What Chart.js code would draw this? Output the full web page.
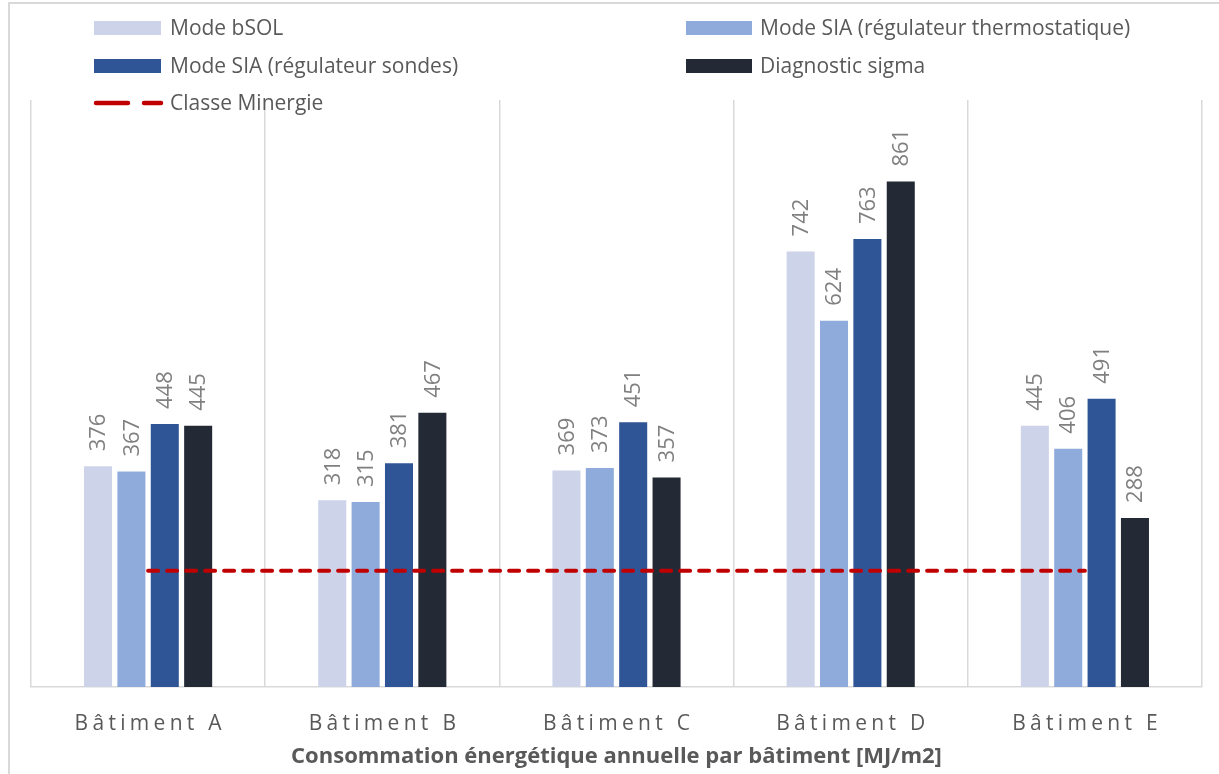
<!DOCTYPE html>
<html>
<head>
<meta charset="utf-8">
<script src="https://cdn.jsdelivr.net/npm/chart.js@4.4.1/dist/chart.umd.min.js"></script>
<style>
  html, body { margin: 0; padding: 0; background: #ffffff; }
  #wrap { position: relative; width: 1219px; height: 774px; }
</style>
</head>
<body>
<div id="wrap"><canvas id="c" width="1219" height="774"></canvas></div>
<script>
// Annual energy consumption per building [MJ/m2]
const categories = ['Bâtiment A', 'Bâtiment B', 'Bâtiment C', 'Bâtiment D', 'Bâtiment E'];
const modeBsol = [376, 318, 369, 742, 445];
const modeSiaThermostatique = [367, 315, 373, 624, 406];
const modeSiaSondes = [448, 381, 451, 763, 491];
const diagnosticSigma = [445, 467, 357, 861, 288];
const classeMinergie = [198, 198, 198, 198, 198];

const seriesNames = [
  'Mode bSOL',
  'Mode SIA (régulateur thermostatique)',
  'Mode SIA (régulateur sondes)',
  'Diagnostic sigma',
  'Classe Minergie'
];
const axisTitle = 'Consommation énergétique annuelle par bâtiment [MJ/m2]';

const colors = ['#CDD4E9', '#8FABDC', '#2F5597', '#232A35', '#C00000'];
const FONT = '"Open Sans", "Noto Sans", sans-serif';
const TEXT_GREY = '#595959';
const LABEL_GREY = '#808080';
const GRID = '#D9D9D9';

// Custom drawing: frame, category labels, axis title, legend and value labels
const decorations = {
  id: 'decorations',
  beforeDraw(chart) {
    const ctx = chart.ctx;
    ctx.save();
    ctx.strokeStyle = GRID;
    ctx.lineWidth = 2;
    ctx.strokeRect(9, 3, chart.width + 40, chart.height + 40);
    ctx.restore();
  },
  afterDatasetsDraw(chart) {
    const ctx = chart.ctx;
    // value labels above bars, rotated
    ctx.save();
    ctx.fillStyle = LABEL_GREY;
    ctx.font = '22px ' + FONT;
    ctx.textAlign = 'left';
    ctx.textBaseline = 'middle';
    chart.data.datasets.forEach((ds, di) => {
      if (ds.type === 'line') return;
      const meta = chart.getDatasetMeta(di);
      meta.data.forEach((bar, i) => {
        ctx.save();
        ctx.translate(bar.x + 1, bar.y - 15);
        ctx.rotate(-Math.PI / 2);
        ctx.fillText(String(ds.data[i]), 0, 0);
        ctx.restore();
      });
    });
    ctx.restore();
  },
  afterDraw(chart) {
    const ctx = chart.ctx;
    const xScale = chart.scales.x;

    // category labels with letter spacing
    ctx.save();
    ctx.fillStyle = TEXT_GREY;
    ctx.font = '21px ' + FONT;
    ctx.textBaseline = 'alphabetic';
    ctx.textAlign = 'left';
    const spacing = 4.3;
    ctx.letterSpacing = spacing + 'px';
    categories.forEach((lab, i) => {
      const w = ctx.measureText(lab).width - spacing;
      const cx = xScale.getPixelForValue(i);
      ctx.fillText(lab, cx - w / 2, 730);
    });
    ctx.letterSpacing = '0px';

    // axis title
    ctx.font = 'bold 22px ' + FONT;
    ctx.textAlign = 'center';
    ctx.fillText(axisTitle, (chart.chartArea.left + chart.chartArea.right) / 2, 763);
    ctx.restore();

    // legend
    ctx.save();
    ctx.font = '21px ' + FONT;
    ctx.fillStyle = TEXT_GREY;
    ctx.textAlign = 'left';
    ctx.textBaseline = 'alphabetic';
    const cols = [{ sx: 94, sw: 67, tx: 170 }, { sx: 686, sw: 66, tx: 760 }];
    const rows = [{ top: 21, base: 35 }, { top: 59, base: 73 }, { top: 96, base: 110 }];
    const order = [[0, 0, 0], [1, 1, 0], [2, 0, 1], [3, 1, 1], [4, 0, 2]];
    order.forEach(([di, c, r]) => {
      const col = cols[c], row = rows[r];
      if (di === 4) {
        ctx.save();
        ctx.strokeStyle = colors[4];
        ctx.lineWidth = 4.5;
        ctx.lineCap = 'round';
        ctx.beginPath();
        ctx.moveTo(col.sx + 2, row.top + 7);
        ctx.lineTo(col.sx + 34, row.top + 7);
        ctx.moveTo(col.sx + 50, row.top + 7);
        ctx.lineTo(col.sx + 67, row.top + 7);
        ctx.stroke();
        ctx.restore();
      } else {
        ctx.fillStyle = colors[di];
        ctx.fillRect(col.sx, row.top, col.sw, 14);
      }
      ctx.fillStyle = TEXT_GREY;
      ctx.fillText(chart.data.datasets[di].label, col.tx, row.base);
    });
    ctx.restore();
  }
};

const barSeries = [modeBsol, modeSiaThermostatique, modeSiaSondes, diagnosticSigma];
const datasets = barSeries.map((values, i) => ({
  type: 'bar',
  label: seriesNames[i],
  data: values,
  backgroundColor: colors[i],
  borderWidth: 0,
  categoryPercentage: 0.57,
  barPercentage: 0.84,
  order: 2
}));
datasets.push({
  type: 'line',
  label: seriesNames[4],
  data: classeMinergie,
  borderColor: colors[4],
  borderWidth: 4,
  borderDash: [10, 9],
  borderCapStyle: 'round',
  pointRadius: 0,
  fill: false,
  order: 0
});

new Chart(document.getElementById('c'), {
  data: { labels: categories, datasets },
  options: {
    responsive: false,
    animation: false,
    devicePixelRatio: 1,
    layout: { padding: { top: 100, left: 31, right: 17, bottom: 0 } },
    plugins: { legend: { display: false }, tooltip: { enabled: false } },
    scales: {
      x: {
        grid: { offset: true, color: GRID, lineWidth: 1.5, drawTicks: false },
        border: { display: true, color: GRID, width: 1.5 },
        ticks: { display: false },
        afterFit(scale) { scale.height = 87; }
      },
      y: { display: false, min: 0, max: 1000 }
    }
  },
  plugins: [decorations]
});
</script>
</body>
</html>
